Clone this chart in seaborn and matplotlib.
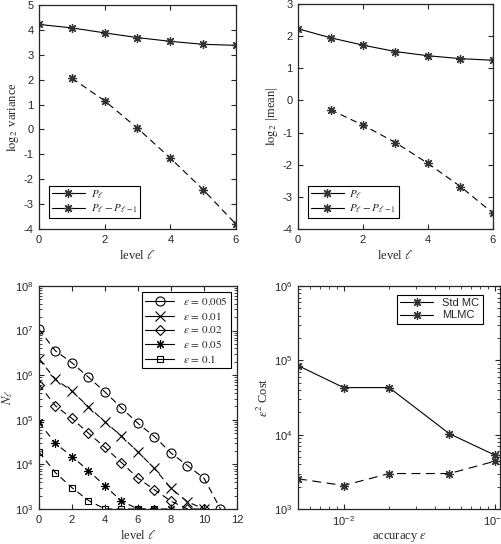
import numpy as np
import pandas as pd
import matplotlib
matplotlib.use("Agg")
import matplotlib.pyplot as plt
from matplotlib.lines import Line2D
import seaborn as sns

# ---- data ----
levels = [0, 1, 2, 3, 4, 5, 6]
var_P = [4.22, 4.08, 3.88, 3.69, 3.54, 3.42, 3.38]
var_dP = [2.06, 1.15, 0.05, -1.15, -2.42, -3.81]
mean_P = [2.23, 1.95, 1.72, 1.52, 1.39, 1.30, 1.25]
mean_dP = [-0.29, -0.77, -1.31, -1.96, -2.68, -3.51]

eps_labels = ['0.005', '0.01', '0.02', '0.05', '0.1']
N_005 = [1.07e7, 3.5e6, 1.9e6, 9.0e5, 4.2e5, 1.85e5, 8.3e4, 4.2e4, 1.8e4, 9.4e3, 4.9e3, 1.0e3]
N_01 = [2.3e6, 8.1e5, 4.4e5, 1.95e5, 9.0e4, 4.3e4, 1.9e4, 8.1e3, 2.9e3, 1.45e3, 1.0e3]
N_02 = [6.1e5, 2.05e5, 1.07e5, 5.0e4, 2.4e4, 1.1e4, 4.9e3, 2.7e3, 1.5e3, 1.0e3, 1.0e3]
N_05 = [8.7e4, 2.95e4, 1.5e4, 7.2e3, 3.3e3, 1.5e3, 1.0e3, 1.0e3, 1.0e3]
N_1 = [1.9e4, 6.5e3, 3.0e3, 1.55e3, 1.0e3, 1.0e3, 1.0e3, 1.0e3]

accuracy = [0.005, 0.01, 0.02, 0.05, 0.1]
cost_std = [8.5e4, 4.3e4, 4.3e4, 1.03e4, 5.3e3]
cost_mlmc = [2.55e3, 2.07e3, 3.0e3, 3.0e3, 4.4e3]

sns.set_style("ticks")
plt.rcParams['font.family'] = ['Liberation Sans', 'DejaVu Sans']
plt.rcParams['mathtext.fontset'] = 'stix'
plt.rcParams['axes.unicode_minus'] = False
plt.rcParams['xtick.labelsize'] = 8
plt.rcParams['ytick.labelsize'] = 8
plt.rcParams['axes.linewidth'] = 0.9

W, H = 502, 544
fig = plt.figure(figsize=(W / 100, H / 100), dpi=100)


def box(l, r, t, b):
    return [l / W, 1 - b / H, (r - l) / W, (b - t) / H]


ax1 = fig.add_axes(box(39, 236, 5, 229))
ax2 = fig.add_axes(box(298, 493, 4, 229))
ax3 = fig.add_axes(box(39, 237, 286, 509))
ax4 = fig.add_axes(box(298, 500, 286, 509))

star = (8, 2, 0)
dash = (0, (6, 4))
serif = dict(family=['Liberation Serif', 'DejaVu Serif'], fontsize=9)
lw = 0.8
ms_star = 6.5
star_kw = dict(marker=star, markersize=ms_star, markeredgewidth=0.9, markeredgecolor='#333333')


def frame_legend(leg):
    leg.get_frame().set_linewidth(0.8)
    leg.get_frame().set_edgecolor('black')


def star_pair(ax, yP, ydP, ylabel, ylim):
    sns.lineplot(x=levels, y=yP, ax=ax, color='black', lw=lw, **star_kw)
    sns.lineplot(x=levels[1:], y=ydP, ax=ax, color='black', lw=lw, linestyle=dash, **star_kw)
    ax.set_xlim(0, 6)
    ax.set_ylim(*ylim)
    ax.set_xticks([0, 2, 4, 6])
    ax.set_yticks(range(ylim[0], ylim[1] + 1))
    ax.set_xlabel(r'level $\ell$', labelpad=3, **serif)
    ax.set_ylabel(ylabel, labelpad=2, **serif)
    h = [Line2D([], [], color='black', lw=lw, **star_kw) for _ in range(2)]
    leg = ax.legend(h, [r'$P_\ell$', r'$P_\ell - P_{\ell-1}$'], loc='lower left',
                    bbox_to_anchor=(0.05, 0.05), fontsize=8, fancybox=False,
                    framealpha=1, borderpad=0.25, handlelength=3,
                    labelspacing=0.15, borderaxespad=0, handletextpad=0.5)
    frame_legend(leg)


star_pair(ax1, var_P, var_dP, r'$\log_2$ variance', (-4, 5))
star_pair(ax2, mean_P, mean_dP, r'$\log_2$ |mean|', (-4, 3))

# bottom left: N_l per accuracy
series = [N_005, N_01, N_02, N_05, N_1]
markers = ['o', 'x', 'D', star, 's']
msizes = [6.5, 6.5, 5.5, 6.5, 5]
handles = []
for vals, m, ms in zip(series, markers, msizes):
    kw = dict(marker=m, markersize=ms, markerfacecolor='none',
              markeredgecolor='black', markeredgewidth=0.8)
    sns.lineplot(x=list(range(len(vals))), y=vals, ax=ax3, color='black', lw=lw,
                 linestyle=dash, **kw)
    handles.append(Line2D([], [], color='black', lw=lw, **kw))
ax3.set_yscale('log')
ax3.set_xlim(0, 12)
ax3.set_ylim(1e3, 1e8)
ax3.set_xticks(range(0, 13, 2))
ax3.set_xlabel(r'level $\ell$', labelpad=3, **serif)
ax3.set_ylabel(r'$N_\ell$', labelpad=0, **serif)
leg = ax3.legend(handles, [r'$\varepsilon\,=\,%s$' % e for e in eps_labels],
                 loc='upper right', bbox_to_anchor=(0.97, 0.975), fontsize=8,
                 fancybox=False, framealpha=1, borderpad=0.3,
                 handlelength=2.6, labelspacing=0.25, borderaxespad=0)
frame_legend(leg)

# bottom right: cost vs accuracy
sns.lineplot(x=accuracy, y=cost_std, ax=ax4, color='black', lw=lw, **star_kw)
sns.lineplot(x=accuracy, y=cost_mlmc, ax=ax4, color='black', lw=lw,
             linestyle=(0, (8, 5)), **star_kw)
ax4.set_xscale('log')
ax4.set_yscale('log')
ax4.set_xlim(0.005, 0.108)
ax4.set_ylim(1e3, 1e6)
ax4.set_xticks([0.01, 0.1])
ax4.set_xlabel(r'accuracy $\varepsilon$', labelpad=2, **serif)
ax4.set_ylabel(r'$\varepsilon^2$ Cost', labelpad=2, **serif)
h = [Line2D([], [], color='black', lw=lw, **star_kw) for _ in range(2)]
leg = ax4.legend(h, ['Std MC', 'MLMC'], loc='upper right', bbox_to_anchor=(0.915, 0.96),
                 fontsize=8, fancybox=False, framealpha=1, borderpad=0.3,
                 handlelength=3, labelspacing=0.2, borderaxespad=0)
frame_legend(leg)

for ax in (ax1, ax2, ax3, ax4):
    for s in ax.spines.values():
        s.set_visible(True)
    ax.tick_params(which='major', top=True, right=True, direction='in',
                   length=3.5, width=0.8, pad=4)
    ax.tick_params(which='minor', top=True, right=True, direction='in',
                   length=2, width=0.6)

fig.savefig('out.png', dpi=100)
